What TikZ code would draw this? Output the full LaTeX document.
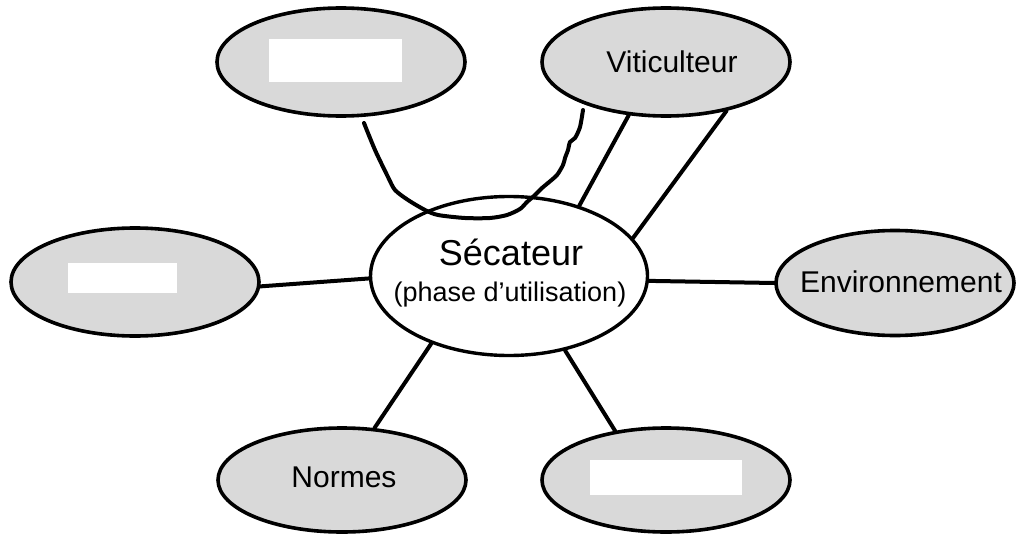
\documentclass[tikz,border=0pt]{standalone}
\usepackage{fontspec}
\setmainfont{Liberation Sans}
\usetikzlibrary{shapes.geometric}
\definecolor{bubblegray}{RGB}{217,217,217}
\tikzset{
  bubble/.style={ellipse, draw=black, line width=3.6pt, fill=bubblegray, inner sep=0pt,
                 minimum width=248pt, minimum height=108pt},
  hub/.style={ellipse, draw=black, line width=3.4pt, fill=white, inner sep=0pt,
              minimum width=277pt, minimum height=159pt},
  hidden/.style={fill=white, draw=none, inner sep=0pt},
  lbl/.style={anchor=base, inner sep=0pt, font=\fontsize{30}{34}\selectfont},
  link/.style={draw=black, line width=4pt, line cap=round, line join=round}
}
\begin{document}
\begin{tikzpicture}[x=1pt, y=-1pt]
  \useasboundingbox (0,0) rectangle (1017,535);
  \fill[white] (0,0) rectangle (1017,535);

  % central element
  \node[hub] (sec) at (509,276) {};
  \node[anchor=base, inner sep=0pt, font=\fontsize{36}{40}\selectfont] (sectitle) at (511,265) {Sécateur};
  \node[anchor=base, inner sep=0pt, font=\fontsize{27}{30}\selectfont] (secsub) at (510,301) {(phase d’utilisation)};

  % surrounding elements
  \node[bubble] (tl)  at (341,62)  {};
  \node[bubble] (vit) at (666,62)  {};
  \node[bubble] (lft) at (135,282) {};
  \node[bubble, minimum width=238pt, minimum height=105pt] (env) at (895,283) {};
  \node[bubble, minimum height=104pt] (nor) at (342,480) {};
  \node[bubble, minimum height=104pt] (br)  at (666,480) {};

  % blanked-out labels
  \node[hidden, minimum width=133pt, minimum height=43pt] (tlbox)  at (335.5,60.5) {};
  \node[hidden, minimum width=109pt, minimum height=30pt] (lftbox) at (122.5,278) {};
  \node[hidden, minimum width=152pt, minimum height=35pt] (brbox)  at (665.5,477.5) {};

  % visible labels
  \node[lbl] (vittxt) at (672,72)  {Viticulteur};
  \node[lbl] (envtxt) at (901,292) {Environnement};
  \node[lbl] (nortxt) at (344,487) {Normes};

  % straight links
  \draw[link] (lft.-2.7) -- (sec.181.6);
  \draw[link] (sec.-2.5) -- (env.180);
  \draw[link] (sec.221.6) -- (nor.58.9);
  \draw[link] (sec.-53.4) -- (br.136.7);
  \draw[link] (vit.-39.4) -- (sec.17.5);
  \draw[link] (vit.-125.3) -- (sec.45.4);

  % hand-drawn link from the upper left element to the grower
  \coordinate (wstart) at (364,123);
  \coordinate (wend) at (583,110);
  \draw[link] plot[smooth, tension=0.45] coordinates {
    (wstart) (375,150) (388,177) (395,190) (408,200) (425,210) (438,215)
    (465,218) (490,218) (507,215) (520,209) (527,202) (535,195) (542,188)
    (548,183) (557,175) (563,165) (565,158) (568,150) (570,142) (575,138)
    (580,127) (wend)};
\end{tikzpicture}
\end{document}
